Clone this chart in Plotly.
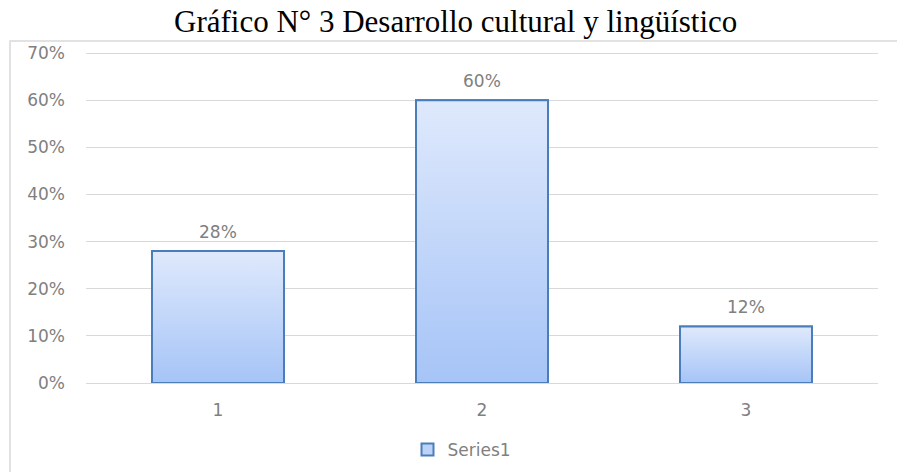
import plotly.graph_objects as go

# Data
categories = ["1", "2", "3"]
values = [0.28, 0.60, 0.12]
series_name = "Series1"
title_text = "Gráfico N° 3 Desarrollo cultural y lingüístico"
tick_vals = [0, 0.1, 0.2, 0.3, 0.4, 0.5, 0.6, 0.7]
tick_text = ["0%", "10%", "20%", "30%", "40%", "50%", "60%", "70%"]

W, H = 897, 472
ML, MR, MT, MB = 86, 19, 46, 89
PW, PH = W - ML - MR, H - MT - MB
# extend the value axis a little above 70% so the top gridline is drawn
y_top = 0.7 * PH / 330

bar_width = 0.5
edge = "#4a7ebb"
gray = "#808080"
font_family = "'DejaVu Sans', sans-serif"

fig = go.Figure()

# Base bars (legend entry and outline)
fig.add_trace(go.Bar(
    x=list(range(len(categories))), y=values, name=series_name,
    width=bar_width,
    marker=dict(color="#bcd2f8", line=dict(color=edge, width=2)),
    hoverinfo="skip",
    showlegend=True,
))

# Vertical gradient overlay on each bar
for i, v in enumerate(values):
    x0, x1 = i - bar_width / 2, i + bar_width / 2
    fig.add_trace(go.Scatter(
        x=[x0, x0, x1, x1, x0], y=[0, v, v, 0, 0],
        mode="lines", fill="toself",
        line=dict(color=edge, width=2),
        fillgradient=dict(type="vertical",
                          colorscale=[[0, "#a6c4f7"], [1, "#dfe9fc"]]),
        hoverinfo="skip", showlegend=False,
    ))
    # Value label above the bar
    fig.add_annotation(x=i, y=v, text=f"{round(v * 100)}%", showarrow=False,
                       xanchor="center", yanchor="middle", yshift=19,
                       font=dict(color=gray, size=17, family=font_family))

# Outer chart frame
fig.add_shape(type="rect", xref="paper", yref="paper",
              x0=(10 - ML) / PW, x1=1.2, y0=-0.6, y1=1 + (MT - 41) / PH,
              line=dict(color="#d9d9d9", width=1.5), fillcolor="rgba(0,0,0,0)",
              layer="below")

fig.add_annotation(text=title_text, xref="paper", yref="paper",
                   x=(455 - ML) / PW, y=1 + (MT - 22) / PH,
                   xanchor="center", yanchor="middle", showarrow=False,
                   font=dict(family="'Liberation Serif', 'Times New Roman', serif",
                             size=31, color="#000000"))

fig.update_layout(
    width=W, height=H,
    margin=dict(l=ML, r=MR, t=MT, b=MB, autoexpand=False),
    paper_bgcolor="white", plot_bgcolor="white",
    showlegend=True,
    legend=dict(orientation="h", x=(462 - ML) / PW, xanchor="center",
                yref="container", y=1 - 450 / H, yanchor="middle",
                font=dict(color=gray, size=17, family=font_family),
                itemwidth=30, traceorder="normal"),
    xaxis=dict(range=[-0.5, 2.5], tickvals=[0, 1, 2], ticktext=categories,
               showgrid=False, zeroline=False, showline=False,
               ticks="outside", ticklen=12, tickcolor="rgba(0,0,0,0)",
               tickfont=dict(color=gray, size=17, family=font_family)),
    yaxis=dict(range=[0, y_top], tickvals=tick_vals, ticktext=tick_text,
               showgrid=True, gridcolor="#d9d9d9", gridwidth=1,
               zeroline=True, zerolinecolor="#d9d9d9", zerolinewidth=1,
               showline=False, ticks="", ticklabelstandoff=20,
               tickfont=dict(color=gray, size=17, family=font_family)),
)

fig.write_html("out.html")
